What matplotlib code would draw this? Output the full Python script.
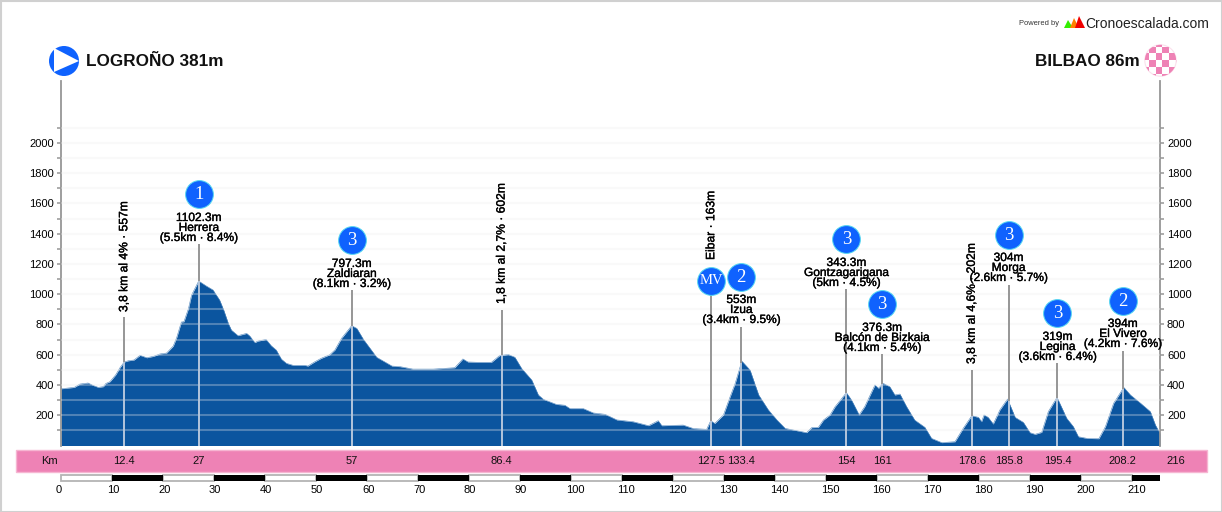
import numpy as np
import matplotlib
matplotlib.use('Agg')
import matplotlib.pyplot as plt
import matplotlib.patheffects as pe
from matplotlib.patches import Circle, Polygon, Rectangle
from matplotlib.transforms import blended_transform_factory, ScaledTranslation

plt.rcParams['font.family'] = ['Liberation Sans', 'DejaVu Sans']

# perfil de la etapa
profile_km = [0, 2.6, 3.7, 5.3, 6.3, 7.3, 8.3, 8.8, 9.6, 10.7, 11.6, 12.4, 13.2, 14.3, 15.5, 16.8, 18.1, 19.4,
              20.7, 22, 22.7, 23.6, 24.1, 25, 25.6, 27, 28.5, 29.8, 31.1, 31.9, 32.8, 33.4, 34.7, 36.4, 37, 38,
              38.6, 40.2, 41.2, 42.2, 43.2, 44.2, 45.5, 47.8, 48.4, 49.7, 51, 52.7, 53.7, 55, 57, 58, 59.3, 60.6,
              61.9, 63.2, 64.9, 66.5, 69, 73, 77.2, 78.8, 79.8, 81.5, 84.4, 86, 87.7, 89, 90.3, 92.3, 93.6, 94.6,
              97.1, 98.8, 99.8, 102.4, 104.4, 106.7, 109, 112.2, 115.2, 117.1, 117.8, 122, 124, 126.6, 127.4,
              128.2, 129.9, 131.2, 132.2, 133.5, 135.1, 136.8, 138.7, 140.4, 142, 144.3, 146.2, 147.2, 148.5,
              149.5, 150.8, 151.8, 154, 155, 156.5, 157.6, 159.6, 160.3, 161.2, 162.5, 163.5, 164.5, 165.8,
              167.4, 169.4, 170.7, 172.7, 175.3, 176.9, 178.6, 179.9, 180.5, 181, 181.8, 182.8, 184.1, 185.6,
              187.1, 188.7, 190, 191, 192.3, 193.6, 195.3, 197.2, 198.5, 199.5, 201.2, 203.5, 204.8, 206.4,
              208.4, 209.7, 211.7, 213.6, 214.6, 215.5]
profile_m = [375, 384, 406, 413, 397, 384, 389, 410, 422, 466, 516, 552, 560, 565, 596, 580, 589, 605,
             611, 657, 715, 816, 818, 906, 994, 1087, 1054, 1028, 961, 895, 807, 763, 726, 741, 724, 680,
             690, 701, 660, 631, 571, 543, 530, 530, 525, 552, 576, 600, 631, 708, 792, 774, 701, 642,
             583, 558, 525, 521, 505, 505, 514, 572, 552, 550, 550, 594, 602, 583, 510, 433, 334, 305,
             272, 266, 244, 244, 215, 206, 169, 157, 131, 164, 131, 135, 112, 107, 164,
             146, 202, 322, 411, 558, 499, 334, 235, 168, 113, 98, 85, 118, 120,
             168, 202, 257, 349, 301, 202, 257, 400, 378, 411, 389, 334, 340, 257,
             168, 120, 47, 19, 25, 113, 197, 186, 157, 202, 186, 142, 235, 307,
             186, 153, 85, 74, 87, 224, 318, 180, 125, 58, 47, 45, 125, 279,
             384, 334, 279, 224, 135, 80]

# puertos con categoria
climb_km = [27, 57, 133.4, 154, 161, 185.8, 195.4, 208.2]
climb_cat = ['1', '3', '2', '3', '3', '3', '3', '2']
climb_lines = [['1102.3m', 'Herrera', '(5.5km · 8.4%)'],
               ['797.3m', 'Zaldiaran', '(8.1km · 3.2%)'],
               ['553m', 'Izua', '(3.4km · 9.5%)'],
               ['343.3m', 'Gontzagarigana', '(5km · 4.5%)'],
               ['376.3m', 'Balcón de Bizkaia', '(4.1km · 5.4%)'],
               ['304m', 'Morga', '(2.6km · 5.7%)'],
               ['319m', 'Legina', '(3.6km · 6.4%)'],
               ['394m', 'El Vivero', '(4.2km · 7.6%)']]

# rotulos verticales
vert_km = [12.4, 86.4, 127.5, 178.6]
vert_text = ['3,8 km al 4% · 557m', '1,8 km al 2,7% · 602m', 'Eibar · 163m', '3,8 km al 4,6% · 202m']

km_labels = ['12.4', '27', '57', '86.4', '127.5', '133.4', '154', '161', '178.6', '185.8', '195.4', '208.2']
km_marks = [12.4, 27, 57, 86.4, 127.5, 133.4, 154, 161, 178.6, 185.8, 195.4, 208.2]

y_major = list(range(200, 2001, 200))
y_all = list(range(100, 2101, 100))
x_major = list(range(0, 211, 10))

W, H = 1222, 512
BLUE = '#0b559f'
PINK = '#ee82b5'
GREY = '#969696'
ICON = '#0f62fe'

fig = plt.figure(figsize=(W / 100, H / 100), dpi=100, facecolor='white')

# capa en pixeles para la decoracion
over = fig.add_axes([0, 0, 1, 1], zorder=0)
over.set_xlim(0, W)
over.set_ylim(H, 0)
over.axis('off')

ax = fig.add_axes([61 / W, (H - 445.5) / H, (1160 - 61) / W, (445.5 - 81) / H], zorder=1)
ax.patch.set_alpha(0)
ax.set_xlim(0, 215.5)
ax.set_ylim(0, 2409)
ax.autoscale(False)
tr = blended_transform_factory(ax.transData, over.transData)


def bold_text(x, y, s, size=8.6, **kw):
    t = ax.text(x, y, s, transform=tr, clip_on=False, color='black', zorder=6, fontsize=size, **kw)
    t.set_path_effects([pe.withStroke(linewidth=0.25, foreground='black')])
    return t


# area y rejilla
ax.fill_between(profile_km, profile_m, 0, color=BLUE, lw=0, zorder=2)
ax.plot(profile_km, profile_m, color='#4f86bd', lw=0.4, zorder=2.1)
for v in y_all:
    ax.axhline(v, color=(0.93, 0.93, 0.93, 0.3), lw=1.5, zorder=3)

# ejes
for side in ['top', 'bottom']:
    ax.spines[side].set_visible(False)
for side in ['left', 'right']:
    ax.spines[side].set_color(GREY)
    ax.spines[side].set_linewidth(1.3)
ax.set_yticks(y_all)
ax.set_yticklabels([str(v) if v in y_major else '' for v in y_all], fontsize=8)
ax.tick_params(axis='y', left=True, right=True, labelleft=True, labelright=True, length=3, width=1.1, color=GREY, pad=2)
ax.set_xticks(x_major)
ax.set_xticklabels([str(v) for v in x_major], fontsize=8)
ax.tick_params(axis='x', length=0, pad=28.5)
shift = ScaledTranslation(-5 / 100, 0, fig.dpi_scale_trans)
for lab in ax.get_xticklabels():
    lab.set_ha('left')
    lab.set_transform(lab.get_transform() + shift)

# marcas verticales
stem_km = [12.4, 27, 57, 86.4, 127.5, 133.4, 154, 161, 178.6, 185.8, 195.4, 208.2]
stem_top = [317, 244, 290, 310, 295, 327, 289, 354, 370, 285, 363, 351]
for k, top in zip(stem_km, stem_top):
    ground = np.interp(k, profile_km, profile_m)
    ax.plot([k, k], [0, ground], color='#b4c6dc', lw=1.4, zorder=4, solid_capstyle='butt')
    gy = 445.5 - ground * 364.5 / 2409
    ax.plot([k, k], [gy, top], color=GREY, lw=1.4, zorder=4, transform=tr, clip_on=False, solid_capstyle='butt')

# puertos
circle_y = [194, 240, 277, 239, 304, 235, 313, 301]
text_y = [217, 263, 299, 262, 327, 257, 336, 323]
for k, cat, lines, cy, ty in zip(climb_km, climb_cat, climb_lines, circle_y, text_y):
    ax.plot([k], [cy], 'o', ms=20, mfc=ICON, mec='#55d8f0', mew=0.7, transform=tr, clip_on=False, zorder=7)
    ax.text(k, cy + 0.5, cat, transform=tr, color='white', fontsize=13.5, family='Liberation Serif',
            ha='center', va='center', zorder=8)
    for i, s in enumerate(lines):
        bold_text(k, ty + 1 + i * 10, s, ha='center', va='center')

# meta volante
ax.plot([127.5], [281], 'o', ms=20, mfc=ICON, mec='#55d8f0', mew=0.7, transform=tr, clip_on=False, zorder=7)
ax.text(127.5, 281, 'MV', transform=tr, color='white', fontsize=10.5, family='Liberation Serif',
        ha='center', va='center', zorder=8)

# rotulos verticales
vert_bottom = [312, 304, 260, 364]
for k, s, b in zip(vert_km, vert_text, vert_bottom):
    bold_text(k, b, s, size=8.7, rotation=90, ha='center', va='bottom')

# banda de km
over.add_patch(Rectangle((16, 450), 1191, 22, fc=PINK, ec='#f6b6d2', lw=1))
over.text(49, 461, 'Km', fontsize=8, ha='center', va='center', color='#111111')
for k, s in zip(km_marks, km_labels):
    ax.text(k, 461, s, transform=tr, clip_on=False, fontsize=8, ha='center', va='center', color='#111111')
over.text(1176, 461, '216', fontsize=8, ha='center', va='center', color='#111111')

# escala
for i, k in enumerate(range(0, 215, 10)):
    end = min(k + 10, 215.5)
    black = i % 2 == 1
    ax.add_patch(Rectangle((k, 475), end - k, 5.5, transform=tr, clip_on=False, lw=0 if black else 1.3,
                           fc='black' if black else 'white', ec='#b4b4b4', zorder=4 if black else 3))

# cabecera
over.add_patch(Circle((64, 61), 15, fc=ICON, ec='none'))
over.add_patch(Polygon([(54, 48), (54, 72), (79, 61)], fc='white', ec='none'))
over.text(86, 61, 'LOGROÑO 381m', fontsize=12.3, fontweight='bold', ha='left', va='center', color='#111111')
over.text(1140, 61, 'BILBAO 86m', fontsize=12.3, fontweight='bold', ha='right', va='center', color='#111111')

# bandera de meta
flag = Circle((1160.5, 60.5), 15.7, fc='white', ec='#fbe0ec', lw=0.8)
over.add_patch(flag)
for i in range(-1, 5):
    for j in range(-1, 5):
        if (i + j) % 2 == 0:
            sq = Rectangle((1149 + i * 6.7, 46.7 + j * 6.7), 6.7, 6.7, fc=PINK, ec='none')
            over.add_patch(sq)
            sq.set_clip_path(flag)

# logo
over.text(1019, 23.5, 'Powered by', fontsize=5.4, ha='left', va='center', color='#333333')
over.add_patch(Polygon([(1064, 28), (1073, 28), (1068, 20)], fc='#33ee00', ec='none'))
over.add_patch(Polygon([(1070, 28), (1079, 28), (1074, 18)], fc='#ff8000', ec='none'))
over.add_patch(Polygon([(1075, 28), (1085, 28), (1079, 16)], fc='#f00000', ec='none'))
over.text(1085, 23.5, 'Cronoescalada.com', fontsize=10, ha='left', va='center', color='#222222')

# marco
over.add_patch(Rectangle((0.5, 0.5), W - 1, H - 1, fc='none', ec='#d0d0d0', lw=1.5, clip_on=False))

fig.savefig('out.png', dpi=100)
